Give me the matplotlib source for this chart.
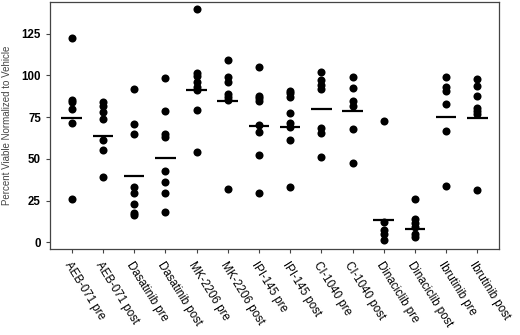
import matplotlib
matplotlib.use("Agg")
import matplotlib.pyplot as plt

# groups in plot order
groups = ["AEB-071 pre", "AEB-071 post", "Dasatinib pre", "Dasatinib post",
          "MK-2206 pre", "MK-2206 post", "IPI-145 pre", "IPI-145 post",
          "CI-1040 pre", "CI-1040 post", "Dinaciclib pre", "Dinaciclib post",
          "Ibrutinib pre", "Ibrutinib post"]

# percent viable, one list per group
aeb_pre = [122.5, 85.5, 84, 80, 71.5, 26]
aeb_post = [84.2, 81.6, 77.8, 73.6, 61.2, 55.4, 39.4]
dasat_pre = [91.6, 70.8, 64.6, 33.2, 29.8, 22.8, 17.8, 16.2]
dasat_post = [98.2, 78.4, 64.6, 63.2, 42.8, 36.2, 29.6, 18.4]
mk_pre = [140, 101.5, 99.5, 96, 93, 91, 79.5, 54]
mk_post = [109.4, 98.8, 95.8, 88.8, 86.8, 85.5, 31.8]
ipi_pre = [105, 87.8, 86.2, 84.6, 70.2, 66, 52.2, 29.6]
ipi_post = [90.8, 89.2, 87.2, 77.6, 71.2, 69.2, 61.2, 33.4]
ci_pre = [102.2, 97.2, 94.2, 91.6, 68.6, 65.2, 51.2]
ci_post = [98.8, 92.2, 84.6, 81.6, 68, 47.6]
dina_pre = [72.8, 12.2, 7.2, 4.8, 1.2]
dina_post = [26, 13.8, 11.6, 9.2, 5.2, 3.2]
ibru_pre = [99.2, 92.8, 90.6, 82.6, 66.6, 34]
ibru_post = [97.8, 93.6, 87.6, 80.6, 78.6, 76.6, 31.2]

values = [aeb_pre, aeb_post, dasat_pre, dasat_post, mk_pre, mk_post,
          ipi_pre, ipi_post, ci_pre, ci_post, dina_pre, dina_post,
          ibru_pre, ibru_post]

# horizontal bar drawn for each group
centre_lines = [74.2, 63.8, 40, 50.6, 91.4, 84.8, 69.6, 68.8,
                79.6, 78.8, 13.4, 7.8, 75.2, 74.6]

fig = plt.figure(figsize=(5.2, 3.35), dpi=100)
ax = fig.add_axes([0.096, 0.257, 0.864, 0.737])

for i, vals in enumerate(values):
    ax.plot([i] * len(vals), vals, linestyle="None", marker="o",
            markersize=5.8, color="black", markeredgewidth=0)
    ax.plot([i - 0.33, i + 0.33], [centre_lines[i], centre_lines[i]],
            color="black", linewidth=1.6, solid_capstyle="butt")

ax.set_xlim(-0.7, 13.7)
ax.set_ylim(-4, 144)
ax.set_yticks([0, 25, 50, 75, 100, 125])
ax.set_xticks(range(len(groups)))
ax.set_xticklabels(groups, rotation=-58, ha="left", va="top",
                   rotation_mode="anchor", fontsize=8.3,
                   family="Liberation Sans")
for lab in ax.get_yticklabels():
    lab.set_fontweight("bold")
    lab.set_fontsize(8.3)
    lab.set_family("Liberation Sans")
ax.set_ylabel("Percent Viable Normalized to Vehicle", fontsize=7,
              family="Liberation Sans", color="#444444", labelpad=7)
ax.tick_params(axis="both", direction="out", length=3, width=0.8,
               color="#444444")
ax.tick_params(axis="x", pad=5)
for sp in ax.spines.values():
    sp.set_color("#444444")
    sp.set_linewidth(0.9)

fig.savefig("out.png", dpi=100)
